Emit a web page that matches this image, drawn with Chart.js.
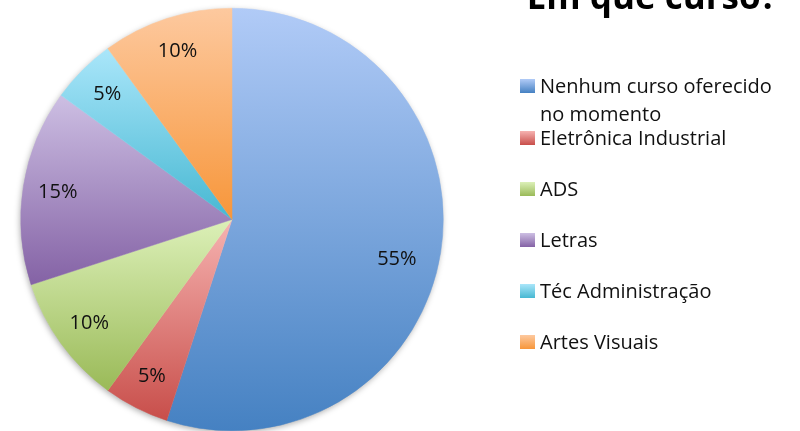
<!DOCTYPE html>
<html>
<head>
<meta charset="utf-8">
<script src="https://cdn.jsdelivr.net/npm/chart.js@4.4.1/dist/chart.umd.min.js"></script>
<style>
  body { margin: 0; background: #fff; }
  #wrap { width: 800px; height: 431px; position: relative; }
</style>
</head>
<body>
<div id="wrap"><canvas id="pie"></canvas></div>
<script>
// dados do gráfico
const titulo = 'Em que curso?';
const cursos = ['Nenhum curso oferecido no momento', 'Eletrônica Industrial', 'ADS', 'Letras', 'Téc Administração', 'Artes Visuais'];
const percentuais = [55, 5, 10, 15, 5, 10];

// cores (claro em cima, escuro embaixo)
const corClara = ['#b1cbf7', '#f6b3b1', '#dcf0b8', '#cdbfe3', '#aae6fa', '#fdc99f'];
const corEscura = ['#4581c2', '#c84e4a', '#9aba58', '#8462a5', '#47b8d2', '#f7963a'];

const fonte = '"Open Sans", "Noto Sans", sans-serif';

// gradiente vertical de cada fatia, calculado a partir da área do gráfico
function gradienteFatia(context) {
    const chart = context.chart;
    const i = context.dataIndex;
    const area = chart.chartArea;
    if (!area) return corEscura[i];
    const cx = (area.left + area.right) / 2;
    const cy = (area.top + area.bottom) / 2;
    const r = Math.min(area.right - area.left, area.bottom - area.top) / 2;
    const total = percentuais.reduce((a, b) => a + b, 0);
    let antes = 0;
    for (let k = 0; k < i; k++) antes += percentuais[k];
    const a0 = -Math.PI / 2 + antes / total * Math.PI * 2;
    const a1 = a0 + percentuais[i] / total * Math.PI * 2;
    const ys = [cy, cy + r * Math.sin(a0), cy + r * Math.sin(a1)];
    // topo (-90 / 270 graus) e base (90 graus) do círculo
    [-Math.PI / 2, Math.PI / 2, Math.PI * 1.5].forEach(a => {
        if (a >= a0 && a <= a1) ys.push(cy + r * Math.sin(a));
    });
    const y0 = Math.min(...ys), y1 = Math.max(...ys);
    const g = chart.ctx.createLinearGradient(0, y0, 0, y1);
    g.addColorStop(0, corClara[i]);
    g.addColorStop(1, corEscura[i]);
    return g;
}

// sombra suave atrás da pizza
const sombraPlugin = {
    id: 'sombra',
    beforeDatasetsDraw(chart) {
        const arc = chart.getDatasetMeta(0).data[0];
        if (!arc) return;
        const ctx = chart.ctx;
        ctx.save();
        ctx.shadowColor = 'rgba(0,0,0,0.35)';
        ctx.shadowBlur = 6;
        ctx.shadowOffsetX = -1;
        ctx.shadowOffsetY = 2;
        ctx.fillStyle = '#fff';
        ctx.beginPath();
        ctx.arc(arc.x, arc.y, arc.outerRadius - 0.5, 0, Math.PI * 2);
        ctx.fill();
        ctx.restore();
    }
};

// rótulos de porcentagem dentro das fatias
const rotulosPlugin = {
    id: 'rotulos',
    afterDatasetsDraw(chart) {
        const ctx = chart.ctx;
        const meta = chart.getDatasetMeta(0);
        ctx.save();
        ctx.font = '20px ' + fonte;
        ctx.fillStyle = '#111';
        ctx.textAlign = 'center';
        ctx.textBaseline = 'middle';
        meta.data.forEach((arc, i) => {
            const meio = (arc.startAngle + arc.endAngle) / 2;
            const grande = percentuais[i] > 50;
            const f = grande ? 0.79 : 0.835;
            const x = arc.x + Math.cos(meio) * arc.outerRadius * f;
            const y = arc.y + Math.sin(meio) * arc.outerRadius * f + (grande ? 14 : 0);
            ctx.fillText(percentuais[i] + '%', x, y);
        });
        ctx.restore();
    }
};

// legenda à direita e título (cortado no topo, como no original)
const legendaPlugin = {
    id: 'legenda',
    afterDraw(chart) {
        const ctx = chart.ctx;
        ctx.save();
        ctx.font = 'bold 35px ' + fonte;
        ctx.fillStyle = '#000';
        ctx.textAlign = 'center';
        ctx.textBaseline = 'alphabetic';
        ctx.fillText(titulo, 652, 9);

        ctx.font = '20px ' + fonte;
        ctx.textAlign = 'left';
        const x = 520, passo = 51, maxW = 250;
        let base = 93;
        cursos.forEach((nome, i) => {
            const g = ctx.createLinearGradient(0, base - 14, 0, base);
            g.addColorStop(0, corClara[i]);
            g.addColorStop(1, corEscura[i]);
            ctx.fillStyle = g;
            ctx.fillRect(x, base - 14, 15, 14);
            // quebra de linha simples
            const palavras = nome.split(' ');
            const linhas = [];
            let atual = '';
            palavras.forEach(p => {
                const t = atual ? atual + ' ' + p : p;
                if (ctx.measureText(t).width > maxW && atual) {
                    linhas.push(atual);
                    atual = p;
                } else {
                    atual = t;
                }
            });
            linhas.push(atual);
            ctx.fillStyle = '#111';
            linhas.forEach((l, k) => ctx.fillText(l, x + 20, base + k * 28));
            base += linhas.length > 1 ? 52 : passo;
        });
        ctx.restore();
    }
};

new Chart(document.getElementById('pie'), {
    type: 'pie',
    data: {
        labels: cursos,
        datasets: [{
            data: percentuais,
            backgroundColor: gradienteFatia,
            borderColor: gradienteFatia,
            borderWidth: 0.5
        }]
    },
    options: {
        responsive: true,
        maintainAspectRatio: false,
        animation: false,
        layout: {
            padding: { left: 20, right: 356, top: 8, bottom: 0 }
        },
        plugins: {
            legend: { display: false },
            title: { display: false },
            tooltip: { enabled: false }
        }
    },
    plugins: [sombraPlugin, rotulosPlugin, legendaPlugin]
});
</script>
</body>
</html>
